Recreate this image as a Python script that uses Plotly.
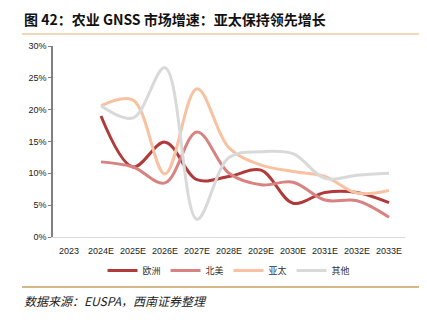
import plotly.graph_objects as go

years = ["2023", "2024E", "2025E", "2026E", "2027E", "2028E", "2029E", "2030E", "2031E", "2032E", "2033E"]
europe = [None, 0.190, 0.110, 0.149, 0.090, 0.095, 0.105, 0.053, 0.070, 0.070, 0.054]
north_america = [None, 0.118, 0.110, 0.085, 0.165, 0.100, 0.082, 0.086, 0.058, 0.057, 0.031]
asia_pacific = [None, 0.206, 0.215, 0.099, 0.233, 0.140, 0.113, 0.103, 0.095, 0.069, 0.073]
others = [None, 0.206, 0.187, 0.266, 0.028, 0.125, 0.134, 0.131, 0.092, 0.097, 0.100]
y_ticks = [0, 0.05, 0.10, 0.15, 0.20, 0.25, 0.30]
y_tick_text = ["0%", "5%", "10%", "15%", "20%", "25%", "30%"]

series = [
    ("欧洲", europe, "#B03A3A"),
    ("北美", north_america, "#D98282"),
    ("亚太", asia_pacific, "#F8C2A2"),
    ("其他", others, "#D9D9D9"),
]

fig = go.Figure()
for name, vals, color in series:
    fig.add_trace(go.Scatter(
        x=years, y=vals, name=name, mode="lines",
        line=dict(color=color, width=3, shape="spline", smoothing=1.0),
    ))

plot_h = 323 - 46 - 86
cjk = "Noto Sans CJK SC"
fig.update_layout(
    width=427, height=323,
    margin=dict(l=53, r=22, t=46, b=86),
    plot_bgcolor="white", paper_bgcolor="white",
    showlegend=True,
    legend=dict(orientation="h", x=0.5, xanchor="center", y=-0.10, yanchor="top",
                font=dict(family=cjk, size=9, color="#333333"),
                itemwidth=30, tracegroupgap=0),
    xaxis=dict(type="category", categoryorder="array", categoryarray=years,
               range=[-0.5, 10.5],
               showline=True, linecolor="#D9D9D9", linewidth=1,
               showgrid=False, ticks="", zeroline=False, ticklabelstandoff=5,
               tickfont=dict(family="Liberation Sans", size=9, color="#222222")),
    yaxis=dict(range=[0, 0.30], tickvals=y_ticks, ticktext=y_tick_text,
               showline=True, linecolor="#808080", linewidth=1.5,
               ticks="outside", ticklen=3, tickcolor="#808080",
               showgrid=False, zeroline=False,
               tickfont=dict(family="Liberation Sans", size=9, color="#222222")),
    annotations=[
        dict(text="<b>图 42：农业 GNSS 市场增速：亚太保持领先增长</b>",
             xref="paper", yref="paper", x=-0.088, y=1.0, yanchor="bottom", xanchor="left",
             yshift=15, showarrow=False,
             font=dict(family=cjk, size=14, color="#111111")),
        dict(text="<i>数据来源：EUSPA，西南证券整理</i>",
             xref="paper", yref="paper", x=-0.088, y=0, xanchor="left", yanchor="top",
             yshift=-53, showarrow=False,
             font=dict(family=cjk, size=12, color="#222222")),
    ],
    shapes=[
        dict(type="line", xref="paper", yref="paper", x0=-0.088, x1=1.04,
             y0=1 + 12 / plot_h, y1=1 + 12 / plot_h,
             line=dict(color="#E0B070", width=1)),
        dict(type="line", xref="paper", yref="paper", x0=-0.088, x1=1.04,
             y0=-50 / plot_h, y1=-50 / plot_h,
             line=dict(color="#C8A060", width=1.5)),
    ],
)
fig.write_html("out.html")
